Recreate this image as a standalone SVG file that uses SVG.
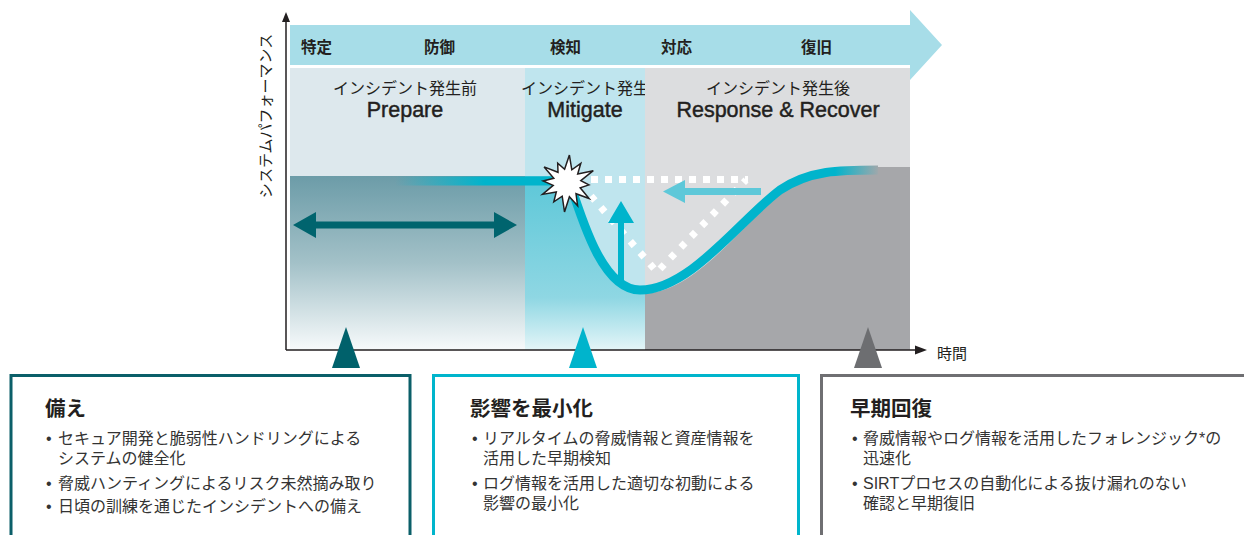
<svg xmlns="http://www.w3.org/2000/svg" width="1244" height="535" viewBox="0 0 1244 535">
<style>
.jp{font-family:"Noto Sans CJK JP","Liberation Sans",sans-serif;fill:#231f20}
.lat{font-family:"Liberation Sans","Noto Sans CJK JP",sans-serif;fill:#231f20}
.band{font-size:15.5px;font-weight:bold}
.sub{font-size:16px;text-anchor:middle}
.big{font-size:21.5px;text-anchor:middle;stroke:#231f20;stroke-width:0.45}
.title{font-size:20.5px;font-weight:bold}
.body{font-family:"Liberation Sans","Noto Sans CJK JP",sans-serif;font-size:16px;fill:#333}
.bul{font-family:"Liberation Sans",sans-serif;font-size:16px;fill:#333}
.dots{fill:none;stroke:#fff;stroke-width:7}
.axis{stroke:#231f20;stroke-width:1.5;fill:none}
.box{fill:#fff;stroke-width:3}
</style>
<defs>
<linearGradient id="gPrep" x1="0" y1="176" x2="0" y2="350" gradientUnits="userSpaceOnUse">
<stop offset="0" stop-color="#6c9ca8"/><stop offset="0.5" stop-color="#a3c1c8"/><stop offset="1" stop-color="#f7fafb"/>
</linearGradient>
<linearGradient id="gMit" x1="0" y1="176" x2="0" y2="350" gradientUnits="userSpaceOnUse">
<stop offset="0" stop-color="#5cc7d8"/><stop offset="0.7" stop-color="#8fd7e3"/><stop offset="1" stop-color="#e4f5f8"/>
</linearGradient>
<linearGradient id="gLine" x1="395" y1="0" x2="485" y2="0" gradientUnits="userSpaceOnUse">
<stop offset="0" stop-color="#00b4cc" stop-opacity="0"/><stop offset="1" stop-color="#00b4cc"/>
</linearGradient>
<linearGradient id="gCurve" x1="835" y1="0" x2="880" y2="0" gradientUnits="userSpaceOnUse">
<stop offset="0" stop-color="#00b4cc"/><stop offset="1" stop-color="#a6a7aa"/>
</linearGradient>
</defs>

<g id="phase-band">
<polygon points="290,25 910,25 910,10 942,45 910,80 910,65 290,65" fill="#a7dde8"/>
<text class="jp band" x="301" y="53">特定</text>
<text class="jp band" x="424" y="53">防御</text>
<text class="jp band" x="550" y="53">検知</text>
<text class="jp band" x="661" y="53">対応</text>
<text class="jp band" x="801" y="53">復旧</text>
</g>

<g id="region-prepare">
<rect x="290" y="68" width="235" height="282" fill="#dde8ed"/>
<rect x="290" y="176" width="235" height="174" fill="url(#gPrep)"/>
<text class="jp sub" x="405" y="94">インシデント発生前</text>
<text class="lat big" x="405" y="117">Prepare</text>
</g>

<g id="region-mitigate">
<rect x="525" y="68" width="120" height="282" fill="#bfe5ee"/>
<path d="M525,176 H572 C585,225 605,293 640,293 H645 V350 H525 Z" fill="url(#gMit)"/>
<text class="jp sub" x="585" y="94">インシデント発生</text>
<text class="lat big" x="585" y="117">Mitigate</text>
</g>

<g id="region-response">
<rect x="645" y="68" width="265" height="282" fill="#dcdddf"/>
<path d="M645,350 V293 C695,293 742,224 782,193 C812,171 842,167 878,167 H910 V350 Z" fill="#a6a7aa"/>
<text class="jp sub" x="778" y="94">インシデント発生後</text>
<text class="lat big" x="778" y="117">Response &amp; Recover</text>
</g>

<g id="axes">
<path class="axis" d="M286,350 V20 M286,350 H916"/>
<polygon points="286,12 282,22 290,22" fill="#231f20"/>
<polygon points="927,350 915,345.5 915,354.5" fill="#231f20"/>
<text class="jp" font-size="15" transform="translate(271,116) rotate(-90)" text-anchor="middle">システムパフォーマンス</text>
<text class="jp" font-size="15" x="937" y="359">時間</text>
</g>

<g id="connectors">
<path d="M395,181 H572" stroke="url(#gLine)" stroke-width="9" fill="none"/>
<path d="M570,183 C585,230 605,290 640,290 C690,290 740,220 780,190 C810,170 840,170 878,170" stroke="url(#gCurve)" stroke-width="9" fill="none"/>
<path class="dots" d="M591,179.5 H748" stroke-dasharray="7 7"/>
<path class="dots" d="M591,196 L657,272 L746,180" stroke-width="6" stroke-dasharray="6 9"/>
<polygon points="293,225 316,212 316,221.5 494,221.5 494,212 517,225 494,238 494,228.5 316,228.5 316,238" fill="#00646e"/>
<polygon points="621,201 608,223 618,223 618,284 624,284 624,223 634,223" fill="#00b4cc"/>
<polygon points="663,191.5 685,180 685,188 761,188 761,195 685,195 685,203" fill="#5ec8d9"/>
</g>

<g id="burst">
<polygon points="569.4,155.1 571.8,169.8 580.8,163.3 577.7,174 593.3,170.7 580.8,180.6 588.9,184.9 580.2,187.8 589.1,198.5 576,193.7 577.6,205.7 569.4,196.8 564.5,211.9 562.2,196.2 553.8,201.8 556.3,192 542.5,194.4 553.2,185.4 543.1,180.9 553.8,178.2 544.1,166.9 558,172.3 557.7,163.1 564.6,169.2" fill="#fff" stroke="#231f20" stroke-width="1.5" stroke-linejoin="miter"/>
</g>

<g id="markers">
<polygon points="346,327 332,368 360,368" fill="#00616b"/>
<polygon points="583,327 569,368 597,368" fill="#00b4cc"/>
<polygon points="868,327 854,368 882,368" fill="#6d6e71"/>
</g>

<g id="box-prepare">
<rect class="box" x="11" y="375.5" width="399" height="200" stroke="#0b5f69"/>
<text class="jp title" x="45" y="416">備え</text>
<text class="bul" x="46" y="444">•</text>
<text class="body"><tspan x="58" y="444">セキュア開発と脆弱性ハンドリングによる</tspan><tspan x="58" dy="20">システムの健全化</tspan></text>
<text class="bul" x="46" y="489">•</text>
<text class="body" x="58" y="489">脅威ハンティングによるリスク未然摘み取り</text>
<text class="bul" x="46" y="512">•</text>
<text class="body" x="58" y="512">日頃の訓練を通じたインシデントへの備え</text>
</g>

<g id="box-mitigate">
<rect class="box" x="433.5" y="375.5" width="365" height="200" stroke="#00b5cc"/>
<text class="jp title" x="470" y="416">影響を最小化</text>
<text class="bul" x="472" y="444">•</text>
<text class="body"><tspan x="483" y="444">リアルタイムの脅威情報と資産情報を</tspan><tspan x="483" dy="20">活用した早期検知</tspan></text>
<text class="bul" x="472" y="489">•</text>
<text class="body"><tspan x="483" y="489">ログ情報を活用した適切な初動による</tspan><tspan x="483" dy="20">影響の最小化</tspan></text>
</g>

<g id="box-recover">
<rect class="box" x="821.5" y="375.5" width="450" height="200" stroke="#6f6f72"/>
<text class="jp title" x="850" y="416">早期回復</text>
<text class="bul" x="852" y="444">•</text>
<text class="body"><tspan x="863" y="444">脅威情報やログ情報を活用したフォレンジック*の</tspan><tspan x="863" dy="20">迅速化</tspan></text>
<text class="bul" x="852" y="489">•</text>
<text class="body"><tspan x="863" y="489">SIRTプロセスの自動化による抜け漏れのない</tspan><tspan x="863" dy="20">確認と早期復旧</tspan></text>
</g>
</svg>
